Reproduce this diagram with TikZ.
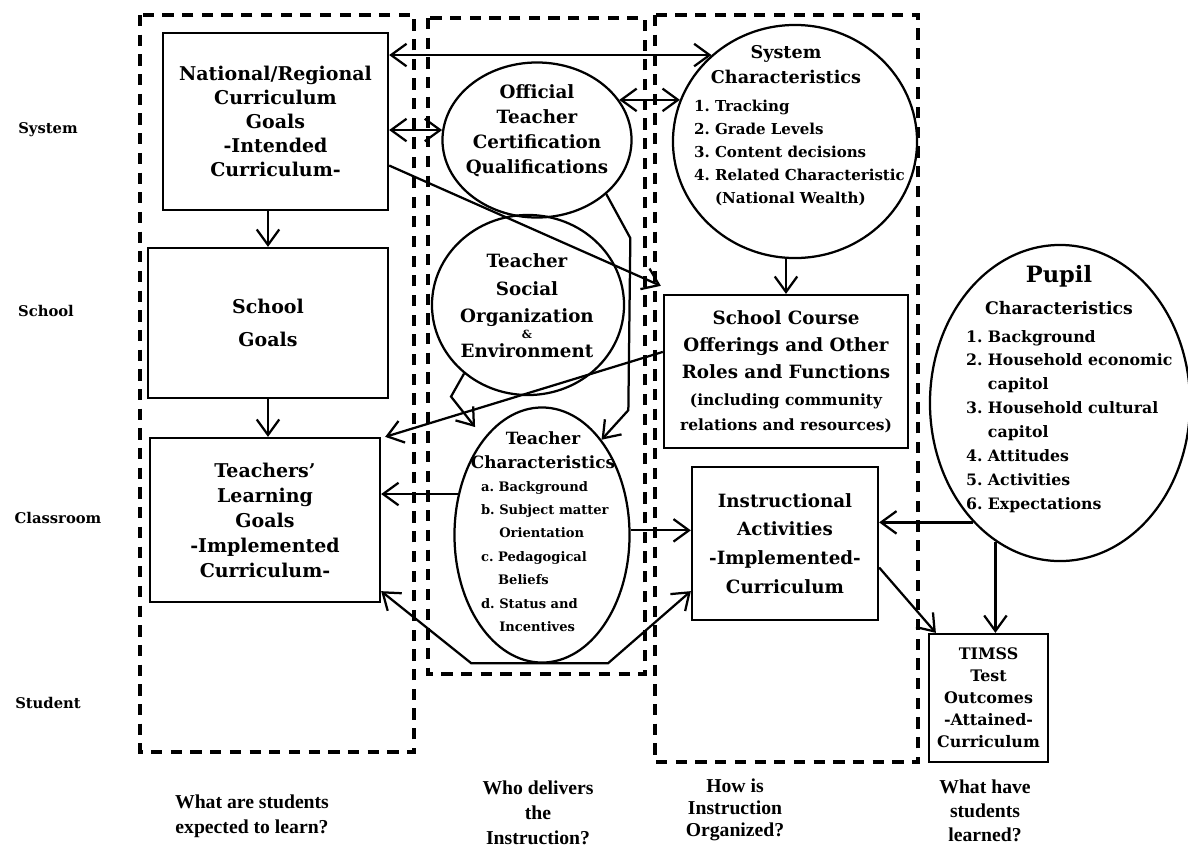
\documentclass[tikz,border=0pt]{standalone}
\usepackage{fontspec}
\setmainfont{DejaVu Serif}
\newfontfamily\qfont{Liberation Serif}
\usetikzlibrary{arrows.meta,shapes.geometric}
\newcommand\fsz[2]{\fontsize{#1pt}{#2pt}\selectfont}

\begin{document}
\begin{tikzpicture}[
        x=0.025cm, y=-0.025cm,
        font=\bfseries,
        line width=1.5pt
    ]
    \tikzset{
        goalbox/.style = {rectangle, draw=black, line width=1.6pt, align=center, inner sep=0pt},
        oval/.style = {ellipse, draw=black, line width=1.6pt, inner sep=0pt},
        ovaltxt/.style = {align=center, inner sep=0pt},
        listtxt/.style = {align=left, inner sep=0pt, anchor=north west},
        rowlbl/.style = {font=\bfseries\fsz{10.5}{13}},
        qlbl/.style = {align=center, font=\qfont\bfseries\fsz{14}{17.8}},
        region/.style = {draw=black, line width=2.4pt, dash pattern=on 8pt off 6pt},
        barb/.tip = {Straight Barb[length=11pt,width=16pt]},
        edgea/.style = {-barb, line width=1.6pt},
        edgeab/.style = {barb-barb, line width=1.6pt},
    }
    \useasboundingbox (0,0) rectangle (1188,850);
    % dashed columns
    \draw[region] (140,15) rectangle (414,752);
    \draw[region] (428,18) rectangle (645,674);
    \draw[region] (655,15) rectangle (918,762);
    % row labels
    \node[rowlbl] (sysrow) at (48,130) {System};
    \node[rowlbl] (schrow) at (46,311) {School};
    \node[rowlbl] (clsrow) at (58,518) {Classroom};
    \node[rowlbl] (sturow) at (48,703) {Student};
    % column questions
    \node[qlbl] (qexpect) at (252,816) {What are students\\expected to learn?};
    \node[qlbl] (qdeliver) at (538,813) {Who delivers\\the\\Instruction?};
    \node[qlbl, font=\qfont\bfseries\fsz{14}{15.6}] (qorganize) at (735,810) {How is\\Instruction\\Organized?};
    \node[qlbl, font=\qfont\bfseries\fsz{14}{17}] (qlearned) at (985,811) {What have\\students\\learned?};
    % boxes
    \node[goalbox, minimum width=5.625cm, minimum height=4.425cm, font=\bfseries\fsz{13.5}{17.1}] (natl) at (275.5,121.5)
        {National/Regional\\Curriculum\\Goals\\-Intended\\Curriculum-};
    \node[goalbox, minimum width=6cm, minimum height=3.75cm, font=\bfseries\fsz{13.5}{24}] (schgoal) at (268,323)
        {School\\Goals};
    \node[goalbox, minimum width=5.75cm, minimum height=4.1cm, font=\bfseries\fsz{13.5}{17.8}] (tlgoal) at (265,520)
        {Teachers'\\Learning\\Goals\\-Implemented\\Curriculum-};
    \node[goalbox, minimum width=6.1cm, minimum height=3.825cm, font=\bfseries\fsz{13}{19.2}] (course) at (786,371.5)
        {School Course\\Offerings and Other\\Roles and Functions\\{\fsz{11}{15}(including community}\\[-1.5pt]{\fsz{11}{15}relations and resources)}};
    \node[goalbox, minimum width=4.65cm, minimum height=3.825cm, font=\bfseries\fsz{13}{20.4}] (instr) at (785,543.5)
        {Instructional\\Activities\\-Implemented-\\Curriculum};
    \node[goalbox, minimum width=2.975cm, minimum height=3.2cm, font=\bfseries\fsz{11.3}{15.6}] (timss) at (988.5,698)
        {TIMSS\\Test\\Outcomes\\-Attained-\\Curriculum};
    % ellipses
    \node[oval, minimum width=4.725cm, minimum height=3.875cm] (official) at (537,140) {};
    \node[ovaltxt, font=\bfseries\fsz{13}{17.8}] (officialtxt) at (537,131)
        {Official\\Teacher\\Certification\\Qualifications};
    \node[oval, minimum width=4.8cm, minimum height=4.5cm] (social) at (528,305) {};
    \node[ovaltxt, font=\bfseries\fsz{13}{19.5}] (socialtxt) at (527,306)
        {Teacher\\Social\\Organization\\[-8pt]{\fsz{8}{9}\&}\\[-6pt]Environment};
    \node[oval, minimum width=4.375cm, minimum height=6.375cm] (tchar) at (542,535) {};
    \node[ovaltxt, font=\bfseries\fsz{12}{17}] (tchartitle) at (543,450) {Teacher\\Characteristics};
    \node[listtxt, font=\bfseries\fsz{9.3}{16.7}] (tcharlist) at (480,480)
        {a.\ Background\\b.\ Subject matter\\\phantom{b.\ }Orientation\\c.\ Pedagogical\\\phantom{c.\ }Beliefs\\d.\ Status and\\\phantom{d.\ }Incentives};
    \node[oval, minimum width=6.1cm, minimum height=5.825cm] (sys) at (795,141.5) {};
    \node[ovaltxt, font=\bfseries\fsz{12.5}{17.8}] (systitle) at (786,65) {System\\Characteristics};
    \node[listtxt, font=\bfseries\fsz{10.7}{16.4}] (syslist) at (693,99)
        {1.\ Tracking\\2.\ Grade Levels\\3.\ Content decisions\\4.\ Related Characteristic\\\phantom{4.\ }(National Wealth)};
    \node[oval, minimum width=6.5cm, minimum height=7.9cm] (pupil) at (1060,403) {};
    \node[ovaltxt, font=\bfseries\fsz{12.3}{22.8}] (puptitle) at (1059,290) {{\fsz{16}{20}Pupil}\\Characteristics};
    \node[listtxt, font=\bfseries\fsz{11.2}{17}] (puplist) at (965,329)
        {1.\ Background\\2.\ Household economic\\\phantom{2.\ }capitol\\3.\ Household cultural\\\phantom{3.\ }capitol\\4.\ Attitudes\\5.\ Activities\\6.\ Expectations};
    %
    \draw[edgeab] (natl.east |- sys.134) -- (sys.134);
    \draw[edgeab] (natl.east |- official.174) -- (official.174);
    \draw[edgeab] (official.26) -- (official.26 -| sys.160);
    \draw[edgea] ([yshift=-1.1cm]natl.east) -- ([shift={(-2,-8)}]course.north west);
    %
    \draw[edgea] (natl.south -| schgoal.north) -- (schgoal.north);
    \draw[edgea] (schgoal.south) -- (schgoal.south |- tlgoal.north);
    \draw[edgea] (course.north |- sys.south) -- (course.north);
    %
    \draw[edgea] (official.-38) -- ++(24,44) -- ++(-2,172) -- (tchar.58);
    \draw[edgea, shorten >=0.35cm] (social.227) -- ++(-13,23) -- (tchar.121);
    \draw[edgea] ([yshift=0.49cm]course.west) -- ([xshift=0.1cm]tlgoal.north east);
    \draw[edgea] (tchar.154) -- (tchar.154 -| tlgoal.east);
    \draw[edgeab] ([yshift=0.3cm]tlgoal.south east) -- ++(90,72) -- ++(137,0) -- ([yshift=0.75cm]instr.south west);
    \draw[edgea] (tchar.3) -- (tchar.3 -| instr.west);
    %
    \draw[edgea] (pupil.234) -- (pupil.234 -| instr.east);
    \draw[edgea] (pupil.245) -- (pupil.245 |- timss.north);
    \draw[edgea] ([yshift=-0.6cm]instr.east) -- ([xshift=0.2cm]timss.north west);
\end{tikzpicture}
\end{document}
